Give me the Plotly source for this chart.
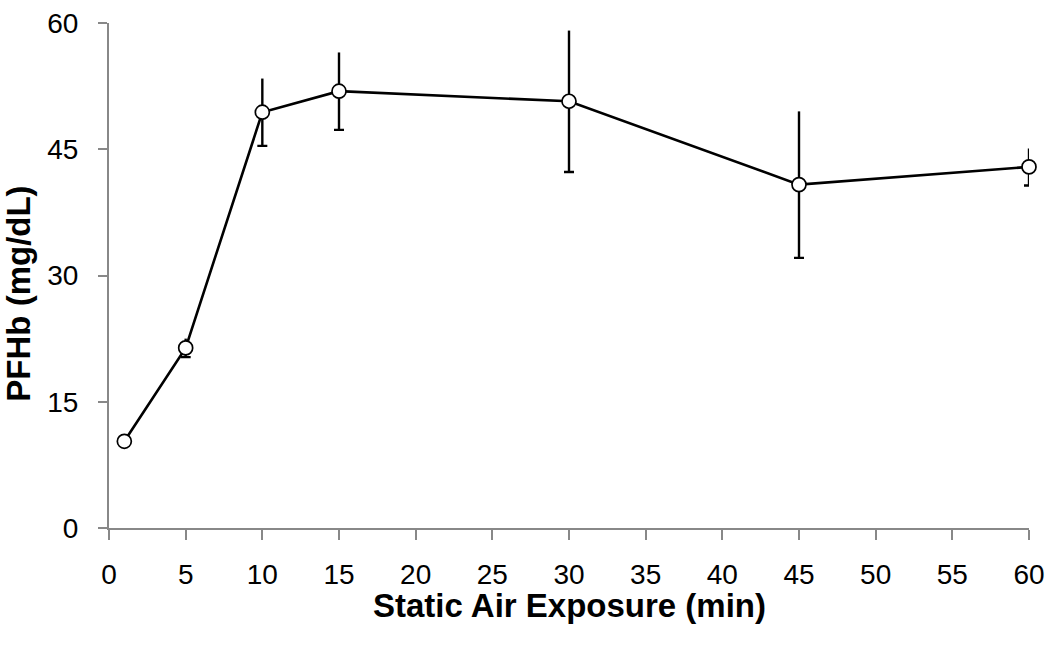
import plotly.graph_objects as go

x_min = [1, 5, 10, 15, 30, 45, 60]
pfhb = [10.3, 21.4, 49.4, 51.9, 50.7, 40.8, 42.9]
err = [0.5, 1.1, 4.0, 4.6, 8.4, 8.7, 2.2]
zeros = [0] * len(x_min)
x_ticks = list(range(0, 61, 5))
y_ticks = [0, 15, 30, 45, 60]

fig = go.Figure()
# upward error bars (no cap)
fig.add_trace(go.Scatter(x=x_min, y=pfhb, mode="markers", marker=dict(size=1, opacity=0),
                         error_y=dict(type="data", symmetric=False, array=err, arrayminus=zeros,
                                      width=0, thickness=2.4, color="black"),
                         cliponaxis=False, showlegend=False, hoverinfo="skip"))
# downward error bars (with cap)
fig.add_trace(go.Scatter(x=x_min, y=pfhb, mode="markers", marker=dict(size=1, opacity=0),
                         error_y=dict(type="data", symmetric=False, array=zeros, arrayminus=err,
                                      width=5, thickness=2.4, color="black"),
                         cliponaxis=False, showlegend=False, hoverinfo="skip"))
fig.add_trace(go.Scatter(x=x_min, y=pfhb, mode="lines+markers",
                         line=dict(color="black", width=2.6),
                         marker=dict(symbol="circle", size=14, color="white",
                                     line=dict(color="black", width=1.7)),
                         cliponaxis=False, showlegend=False))

font_family = "Liberation Sans, Arial, sans-serif"
fig.update_layout(
    width=1050, height=646,
    margin=dict(l=109, r=21, t=23, b=117.5),
    plot_bgcolor="white", paper_bgcolor="white",
    font=dict(family=font_family, color="black", size=28),
    xaxis=dict(range=[0, 60], tickvals=x_ticks, showgrid=False, zeroline=False,
               automargin=False,
               showline=True, linecolor="#888888", linewidth=2,
               ticks="outside", ticklen=10, tickwidth=2, tickcolor="#888888",
               ticklabelstandoff=10,
               tickfont=dict(size=28, family=font_family, color="black")),
    yaxis=dict(range=[0, 60], tickvals=y_ticks, showgrid=False, zeroline=False,
               automargin=False,
               showline=True, linecolor="#888888", linewidth=2,
               ticks="outside", ticklen=9, tickwidth=2, tickcolor="#888888",
               ticklabelstandoff=14,
               tickfont=dict(size=28, family=font_family, color="black")),
    annotations=[
        dict(text="<b>Static Air Exposure (min)</b>", xref="paper", yref="paper",
             x=0.5, y=0, xanchor="center", yanchor="middle", yshift=-77,
             showarrow=False, font=dict(size=33, family=font_family, color="black")),
        dict(text="<b>PFHb (mg/dL)</b>", xref="paper", yref="paper",
             x=0, y=0.464, xanchor="center", yanchor="middle", xshift=-90,
             textangle=-90, showarrow=False,
             font=dict(size=33, family=font_family, color="black")),
    ],
)

fig.write_html("out.html", config={"displayModeBar": False},
               post_script="document.body.style.margin='0';document.body.style.overflow='hidden';")
